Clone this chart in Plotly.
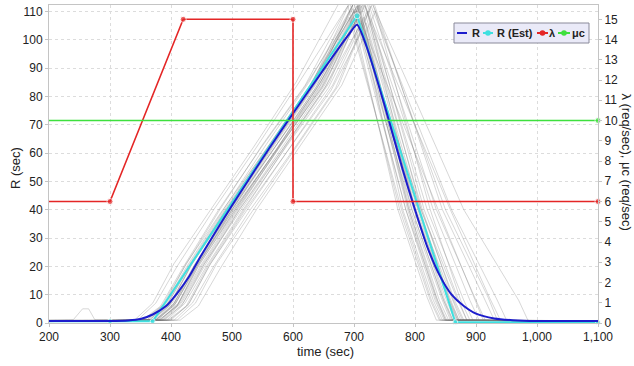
import plotly.graph_objects as go

# ---------------- data ----------------
# mean response time R (sec)
r_time = [200, 300, 330, 350, 370, 392, 410, 430, 450, 500, 562, 600, 650, 690, 705,
          720, 750, 780, 800, 820, 840, 860, 880, 900, 930, 960, 1000, 1100]
r_vals = [0.7, 0.7, 0.9, 1.4, 3.0, 6.0, 10.5, 16.5, 24.0, 41.5, 62.0, 74.0, 89.5, 101.5, 105.3,
          98.0, 77.0, 54.0, 40.0, 27.0, 17.0, 10.0, 6.0, 3.3, 1.6, 1.0, 0.7, 0.7]

# estimated response time R (Est)
rest_time = [200, 300, 370, 705, 866, 1100]
rest_vals = [0.6, 0.6, 0.6, 108.5, 0.3, 0.3]

# arrival rate lambda (req/sec)
lam_time = [200, 300, 420, 600, 600, 1100]
lam_vals = [6, 6, 15, 15, 6, 6]

# service rate mu_c (req/sec)
mu_time = [200, 1100]
mu_vals = [10, 10]

# individual simulation runs (grey)
gray_x = [
    [200, 345, 375, 410, 470, 540, 610, 690, 732, 775, 825, 840, 1100],
    [200, 355, 385, 420, 480, 550, 620, 695, 740, 785, 835, 850, 1100],
    [200, 360, 390, 425, 485, 555, 625, 700, 748, 795, 847, 862, 1100],
    [200, 240, 255, 265, 275, 365, 395, 430, 490, 560, 630, 705, 742, 780, 830, 845, 1100],
    [200, 367, 397, 432, 492, 562, 632, 700, 750, 800, 855, 870, 1100],
    [200, 370, 400, 435, 495, 565, 635, 708, 749, 790, 840, 855, 1100],
    [200, 372, 402, 437, 497, 567, 637, 703, 754, 805, 860, 875, 1100],
    [200, 375, 405, 440, 500, 570, 640, 710, 760, 810, 865, 880, 1100],
    [200, 375, 405, 440, 500, 570, 640, 712, 753, 795, 845, 860, 1100],
    [200, 377, 407, 442, 502, 572, 642, 706, 745, 785, 833, 848, 1100],
    [200, 380, 410, 445, 505, 575, 645, 715, 767, 820, 880, 895, 1100],
    [200, 382, 412, 447, 507, 577, 647, 710, 755, 800, 853, 868, 1100],
    [200, 385, 415, 450, 510, 580, 650, 718, 774, 830, 890, 905, 1100],
    [200, 387, 417, 452, 512, 582, 652, 712, 751, 790, 837, 852, 1100],
    [200, 390, 420, 455, 515, 585, 655, 720, 767, 815, 870, 885, 1100],
    [200, 393, 423, 458, 518, 588, 658, 716, 760, 805, 855, 870, 1100],
    [200, 395, 425, 460, 520, 590, 660, 725, 785, 845, 915, 930, 1100],
    [200, 400, 430, 465, 525, 595, 665, 722, 761, 800, 847, 862, 1100],
    [200, 405, 435, 470, 530, 600, 670, 728, 794, 860, 935, 950, 1100],
    [200, 415, 445, 480, 540, 610, 680, 735, 780, 825, 875, 890, 1100],
    [200, 340, 370, 405, 465, 535, 605, 688, 730, 772, 820, 835, 1100],
    [200, 363, 393, 428, 488, 558, 628, 698, 754, 810, 870, 885, 1100],
    [200, 373, 403, 438, 498, 568, 638, 715, 798, 880, 970, 985, 1100],
    [200, 378, 408, 443, 503, 573, 643, 709, 753, 798, 850, 865, 1100],
    [200, 383, 413, 448, 508, 578, 648, 712, 762, 812, 863, 878, 1100],
    [200, 353, 383, 418, 478, 548, 618, 692, 735, 778, 827, 842, 1100],
    [200, 369, 399, 434, 494, 564, 634, 704, 748, 792, 843, 858, 1100],
    [200, 387, 417, 452, 512, 582, 652, 719, 777, 835, 900, 915, 1100],
    [200, 397, 427, 462, 522, 592, 662, 720, 764, 808, 857, 872, 1100],
    [200, 410, 440, 475, 535, 605, 675, 730, 790, 850, 920, 935, 1100],
    [200, 375, 405, 440, 500, 570, 640, 706, 747, 788, 835, 850, 1100],
    [200, 361, 391, 426, 486, 556, 626, 700, 751, 802, 857, 872, 1100],
    [200, 365, 395, 430, 490, 560, 630, 702, 770, 838, 898, 912, 1100],
    [200, 380, 410, 445, 505, 575, 645, 714, 786, 858, 922, 940, 1100],
]
gray_y = [
    [0.8, 1, 7, 20, 40, 62, 85, 112, 77, 40, 8, 1, 0.6],
    [0.6, 1, 6, 19, 40, 63, 84, 114, 76, 40, 9, 1, 0.5],
    [0.7, 1, 7, 21, 40, 61, 83, 110, 74, 40, 8, 1, 0.6],
    [1.0, 1.2, 5, 5, 1.2, 1, 7, 20, 40, 62, 84, 112, 77, 40, 8, 1, 0.8],
    [0.5, 1, 6, 20, 40, 63, 85, 116, 79, 40, 9, 1, 0.5],
    [0.9, 1, 7, 21, 40, 62, 84, 113, 76, 40, 8, 1, 0.7],
    [0.6, 1, 7, 20, 40, 61, 83, 110, 74, 40, 9, 1, 0.6],
    [0.7, 1, 6, 19, 40, 63, 85, 118, 80, 40, 8, 1, 0.6],
    [0.8, 1, 7, 21, 40, 62, 83, 112, 75, 40, 9, 1, 0.7],
    [0.5, 1, 7, 20, 40, 61, 84, 108, 73, 40, 8, 1, 0.5],
    [0.6, 1, 6, 20, 40, 62, 85, 115, 78, 40, 8, 1, 0.6],
    [0.8, 1, 7, 21, 40, 62, 83, 110, 74, 40, 9, 1, 0.7],
    [0.7, 1, 7, 20, 40, 63, 84, 112, 77, 40, 8, 1, 0.6],
    [0.6, 1, 6, 19, 40, 61, 83, 106, 72, 40, 8, 1, 0.5],
    [0.9, 1, 7, 21, 40, 62, 84, 114, 77, 40, 9, 1, 0.7],
    [0.6, 1, 7, 20, 40, 62, 83, 108, 74, 40, 8, 1, 0.6],
    [0.5, 1, 6, 20, 40, 63, 85, 118, 79, 40, 8, 1, 0.5],
    [0.8, 1, 7, 21, 40, 62, 84, 110, 75, 40, 9, 1, 0.7],
    [0.7, 1, 7, 20, 40, 61, 83, 112, 76, 40, 8, 1, 0.6],
    [1.0, 1, 6, 19, 40, 62, 84, 110, 75, 40, 8, 1, 0.8],
    [0.6, 1, 7, 21, 40, 62, 85, 118, 79, 40, 9, 1, 0.6],
    [0.7, 1, 7, 20, 40, 62, 84, 111, 76, 40, 8, 1, 0.6],
    [0.6, 1, 6, 20, 40, 63, 85, 120, 80, 40, 8, 1, 0.6],
    [0.7, 1, 7, 21, 40, 61, 83, 109, 74, 40, 9, 1, 0.6],
    [0.8, 1, 7, 20, 40, 62, 84, 114, 77, 40, 8, 1, 0.7],
    [0.5, 1, 6, 19, 40, 62, 83, 108, 74, 40, 8, 1, 0.5],
    [0.9, 1, 7, 21, 40, 63, 85, 115, 77, 40, 9, 1, 0.7],
    [0.6, 1, 7, 20, 40, 62, 84, 116, 78, 40, 8, 1, 0.6],
    [0.7, 1, 6, 20, 40, 61, 82, 106, 73, 40, 8, 1, 0.6],
    [0.8, 1, 7, 21, 40, 62, 84, 113, 76, 40, 9, 1, 0.7],
    [0.6, 1, 7, 20, 40, 62, 84, 112, 76, 40, 8, 1, 0.6],
    [0.7, 1, 7, 20, 40, 63, 85, 113, 77, 40, 9, 1, 0.6],
    [0.6, 1, 7, 20, 40, 62, 84, 111, 76, 40, 8, 1, 0.6],
    [0.7, 1, 6, 21, 40, 62, 84, 114, 77, 40, 9, 1, 0.6],
]

x_ticks = [200, 300, 400, 500, 600, 700, 800, 900, 1000, 1100]
y_ticks = [0, 10, 20, 30, 40, 50, 60, 70, 80, 90, 100, 110]
y2_ticks = list(range(0, 16))

# ---------------- styles ----------------
BLUE = "#1c1ccc"
CYAN = "#3fe0e0"
RED = "#e42626"
GREEN = "#3ee03e"
GRAY = "rgba(120,120,120,0.33)"
FONT = "Liberation Sans, Arial, sans-serif"

fig = go.Figure()

for gx, gy in zip(gray_x, gray_y):
    fig.add_trace(go.Scatter(x=gx, y=gy, mode="lines", line=dict(color=GRAY, width=0.9),
                             hoverinfo="skip", showlegend=False))

fig.add_trace(go.Scatter(x=rest_time, y=rest_vals, mode="lines+markers", name="R (Est)",
                         line=dict(color=CYAN, width=2),
                         marker=dict(color=CYAN, size=[0, 5, 5, 6, 5, 5]),
                         cliponaxis=False, showlegend=False))
fig.add_trace(go.Scatter(x=r_time, y=r_vals, mode="lines", name="R",
                         line=dict(color=BLUE, width=2, shape="spline", smoothing=0.6),
                         showlegend=False))
fig.add_trace(go.Scatter(x=lam_time, y=lam_vals, mode="lines+markers", name="λ", yaxis="y2",
                         line=dict(color=RED, width=1.6),
                         marker=dict(color=RED, size=[0, 6, 6, 6, 6, 6]),
                         cliponaxis=False, showlegend=False))
fig.add_trace(go.Scatter(x=mu_time, y=mu_vals, mode="lines+markers", name="μc", yaxis="y2",
                         line=dict(color=GREEN, width=1.6),
                         marker=dict(color=GREEN, size=[0, 6]),
                         cliponaxis=False, showlegend=False))

AX_COL = "#c4c4c4"
GRID = dict(showgrid=True, gridcolor="#dcdcdc", griddash="dot", gridwidth=1)

fig.update_layout(
    width=634, height=366, autosize=False,
    margin=dict(l=49, r=36, t=5, b=43),
    paper_bgcolor="white", plot_bgcolor="white",
    font=dict(family=FONT, size=12, color="#222"),
    showlegend=False,
    xaxis=dict(range=[200, 1100], tickvals=x_ticks, tickformat=",d",
               showline=True, linecolor=AX_COL, mirror=True, zeroline=False,
               ticks="outside", ticklen=3, tickcolor=AX_COL, **GRID,
               tickfont=dict(size=12, color="#222")),
    yaxis=dict(range=[0, 112.3], tickvals=y_ticks, showline=True, linecolor=AX_COL,
               zeroline=False, ticks="outside", ticklen=3, tickcolor=AX_COL, **GRID,
               tickfont=dict(size=12, color="#222")),
    yaxis2=dict(range=[0, 112.3 / 7.15], tickvals=y2_ticks, overlaying="y", side="right",
                showline=True, linecolor=AX_COL, showgrid=False, zeroline=False,
                ticks="outside", ticklen=3, tickcolor=AX_COL,
                tickfont=dict(size=12, color="#222")),
)

# axis titles
fig.add_annotation(text="R (sec)", xref="paper", yref="paper", x=-0.062, y=0.487,
                   xanchor="center", yanchor="middle",
                   textangle=-90, showarrow=False, font=dict(size=13, color="#222"))
fig.add_annotation(text="time (sec)", xref="paper", yref="paper", x=0.503, y=-0.091,
                   xanchor="center", yanchor="middle",
                   showarrow=False, font=dict(size=13, color="#222"))
fig.add_annotation(text="λ (req/sec), μc (req/sec)", xref="paper", yref="paper",
                   x=1.0523, y=0.506, xanchor="center", yanchor="middle",
                   textangle=90, showarrow=False, font=dict(size=13, color="#222"))

# manual legend
def px2x(px):
    return (px - 49) / 549

def py2y(py):
    return (323 - py) / 318

fig.add_shape(type="rect", xref="paper", yref="paper", x0=px2x(454), x1=px2x(589),
              y0=py2y(43), y1=py2y(23), fillcolor="#eaeaf8", line=dict(color="#8a8a9a", width=1))
row = py2y(33)
legend_items = [("R", BLUE, 457, 467, False, 470),
                ("R (Est)", CYAN, 483, 493, True, 495),
                ("λ", RED, 537, 548, True, 547),
                ("μc", GREEN, 558, 570, True, 570)]
for label, col, lx0, lx1, mk, tx in legend_items:
    fig.add_shape(type="line", xref="paper", yref="paper", x0=px2x(lx0), x1=px2x(lx1),
                  y0=row, y1=row, line=dict(color=col, width=2))
    if mk:
        cx = px2x((lx0 + lx1) / 2)
        fig.add_shape(type="circle", xref="paper", yref="paper", xsizemode="pixel",
                      ysizemode="pixel", xanchor=cx, yanchor=row, x0=-2.8, x1=2.8,
                      y0=-2.8, y1=2.8, fillcolor=col, line=dict(color=col, width=0))
    fig.add_annotation(text="<b>%s</b>" % label, xref="paper", yref="paper", x=px2x(tx),
                       y=row, xanchor="left", yanchor="middle", showarrow=False,
                       font=dict(size=11, color="#222"))

fig.write_html("out.html")
